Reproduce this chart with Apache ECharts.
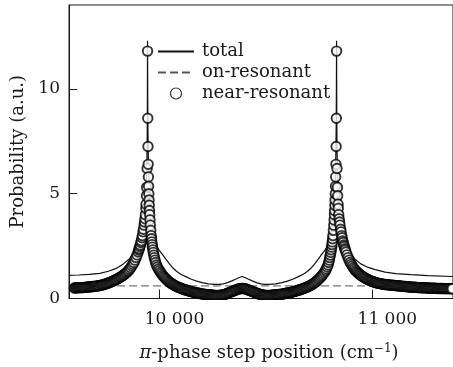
<!DOCTYPE html>
<html><head><meta charset="utf-8">
<script src="https://cdn.jsdelivr.net/npm/echarts@6/dist/echarts.min.js"></script>
<style>html,body{margin:0;padding:0;background:#fff}#c{width:453px;height:367px}</style>
</head><body><div id="c"></div>
<script>
const xTicks = [10000, 11000];
const yTicks = [0, 5, 10];
const seriesNames = ['total', 'on-resonant', 'near-resonant'];

const onResonant = [[9575, 0.6], [11379, 0.6]];

const totalCurve = [[9575,1.10],[9620,1.12],[9670,1.15],[9720,1.20],[9760,1.30],[9800,1.45],[9830,1.65],[9860,1.9],[9880,2.2],[9900,2.65],[9915,3.15],[9925,3.7],[9932,4.4],[9937,5.2],[9940,6.1],[9942,7.3],[9943,8.8],[9944,12.3],[9945,9.5],[9946,8.0],[9948,6.6],[9950,5.8],[9953,5.0],[9957,4.3],[9962,3.7],[9970,3.1],[9980,2.7],[9990,2.45],[10000,2.28],[10014,2.1],[10030,1.88],[10045,1.68],[10061,1.48],[10080,1.3],[10100,1.16],[10126,1.03],[10150,0.92],[10175,0.83],[10201,0.76],[10230,0.70],[10260,0.67],[10280,0.67],[10300,0.70],[10320,0.76],[10340,0.84],[10360,0.93],[10375,1.0],[10388,1.05],[10401,1.0],[10416,0.93],[10436,0.84],[10456,0.76],[10476,0.70],[10496,0.67],[10516,0.67],[10546,0.70],[10575,0.76],[10601,0.83],[10626,0.92],[10650,1.03],[10676,1.16],[10696,1.3],[10715,1.48],[10731,1.68],[10746,1.88],[10762,2.1],[10776,2.28],[10786,2.45],[10796,2.7],[10806,3.1],[10814,3.7],[10819,4.3],[10823,5.0],[10826,5.8],[10828,6.6],[10830,8.0],[10831,9.5],[10832,12.3],[10833,8.8],[10834,7.3],[10836,6.1],[10839,5.2],[10844,4.4],[10851,3.7],[10861,3.15],[10876,2.65],[10896,2.2],[10916,1.9],[10946,1.65],[10976,1.5],[11014,1.38],[11060,1.26],[11110,1.19],[11182,1.14],[11260,1.09],[11379,1.05]];

const nearResonant = [
[9600,.50],[9605,.50],[9610,.51],[9615,.51],[9620,.51],[9625,.52],[9630,.52],[9635,.52],[9640,.52],[9645,.53],[9650,.53],[9655,.54],[9660,.54],[9665,.55],[9670,.55],[9675,.56],[9680,.56],[9685,.57],[9690,.57],[9695,.58],[9700,.59],[9705,.60],[9710,.60],[9715,.61],[9720,.62],[9725,.63],[9730,.64],[9735,.66],[9740,.67],[9745,.69],[9750,.70],[9755,.72],[9760,.74],[9765,.76],[9770,.78],[9775,.80],[9780,.82],[9785,.85],[9790,.87],[9795,.90],[9800,.92],[9805,.95],[9810,.98],[9815,1.01],[9820,1.04],[9825,1.07],[9830,1.11],[9835,1.15],[9840,1.19],[9845,1.24],[9850,1.29],[9855,1.34],[9860,1.40],[9865,1.47],[9870,1.55],[9875,1.63],[9880,1.72],[9885,1.83],[9890,1.95],[9895,2.08],[9900,2.22],[9903,2.31],[9905,2.38],[9908,2.48],[9910,2.55],[9913,2.67],[9915,2.75],[9918,2.9],[9920,3.0],[9923,3.18],[9925,3.3],[9928,3.5],[9930,3.65],[9932,3.8],[9934,4.0],[9936,4.3],[9937,4.5],[9939,4.9],[9940,5.3],[9942,6.2],
[9944,11.8],[9945,8.6],[9946,7.25],[9947,6.4],[9948,5.8],[9949,5.35],[9950,5.0],[9951,4.7],[9952,4.45],[9953,4.2],[9954,4.0],[9955.5,3.75],[9957,3.5],[9959,3.25],
[9961,3.0],[9962.5,2.85],[9964,2.7],[9965.5,2.57],[9967,2.45],[9969,2.32],[9971,2.2],[9973.5,2.07],[9976,1.95],[9979,1.83],[9982,1.72],[9986,1.6],[9990,1.5],[9995,1.41],[10000,1.33],[10005,1.25],[10010,1.18],[10015,1.11],[10020,1.05],[10025,.99],[10030,.94],[10035,.89],[10040,.84],[10045,.80],[10050,.76],[10055,.72],[10060,.69],[10065,.66],[10070,.63],[10075,.60],[10080,.58],[10085,.55],[10090,.53],[10095,.51],[10100,.49],[10105,.47],[10110,.45],[10115,.43],[10120,.42],[10125,.40],[10130,.39],[10135,.37],[10140,.36],[10145,.34],[10150,.33],[10155,.31],[10160,.30],[10165,.29],[10170,.28],[10175,.27],[10180,.26],[10185,.25],[10190,.24],[10195,.23],[10200,.22],[10205,.21],[10210,.20],[10215,.195],[10220,.19],[10225,.185],[10230,.18],[10235,.175],[10240,.17],[10245,.165],[10250,.16],[10255,.155],[10260,.15],[10265,.15],[10270,.15],[10275,.15],[10280,.15],[10285,.155],[10290,.16],[10295,.17],[10300,.18],[10305,.195],[10310,.21],[10315,.23],[10320,.25],[10325,.27],[10330,.29],[10335,.31],[10340,.33],[10345,.35],[10350,.37],[10355,.39],[10360,.41],[10365,.43],[10370,.45],[10375,.46],[10380,.47],[10385,.48],[10390,.48],
[10395,.475],[10400,.47],[10405,.455],[10410,.44],[10415,.42],[10420,.40],[10425,.38],[10430,.36],[10435,.34],[10440,.32],[10445,.30],[10450,.28],[10455,.26],[10460,.24],[10465,.225],[10470,.21],[10475,.195],[10480,.18],[10485,.17],[10490,.16],[10495,.155],[10500,.15],[10505,.15],[10510,.15],[10515,.15],[10520,.15],[10525,.155],[10530,.16],[10535,.165],[10540,.17],[10545,.175],[10550,.18],[10555,.185],[10560,.19],[10565,.195],[10570,.20],[10575,.21],[10580,.22],[10585,.23],[10590,.24],[10595,.25],[10600,.26],[10605,.27],[10610,.28],[10615,.29],[10620,.30],[10625,.31],[10630,.33],[10635,.34],[10640,.36],[10645,.37],[10650,.39],[10655,.40],[10660,.42],[10665,.43],[10670,.45],[10675,.47],[10680,.49],[10685,.51],[10690,.53],[10695,.55],[10700,.58],[10705,.60],[10710,.63],[10715,.66],[10720,.69],[10725,.72],[10730,.76],[10735,.80],[10740,.84],[10745,.89],[10750,.94],[10755,.99],[10760,1.05],[10765,1.11],[10770,1.18],[10775,1.25],[10780,1.33],[10784,1.41],[10788,1.5],[10792,1.6],[10795,1.72],[10798,1.83],[10800,1.95],[10802.5,2.07],[10805,2.2],[10807,2.32],[10809,2.45],[10810.5,2.57],[10812,2.7],[10813.5,2.85],[10815,3.0],
[10817,3.25],[10819,3.5],[10820.5,3.75],[10822,4.0],[10823,4.2],[10824,4.45],[10825,4.7],[10826,5.0],[10827,5.35],[10828,5.8],[10829,6.4],[10830,7.25],[10831,8.6],[10832,11.8],
[10834,6.2],[10836,5.3],[10837,4.9],[10839,4.5],[10840,4.3],[10842,4.0],[10844,3.8],[10846,3.65],[10848,3.5],[10851,3.3],[10853,3.18],[10856,3.0],[10858,2.9],[10861,2.75],[10863,2.67],[10866,2.55],[10868,2.48],[10871,2.38],[10873,2.31],[10876,2.22],[10881,2.08],[10886,1.95],[10891,1.83],[10896,1.72],[10901,1.63],[10906,1.55],[10911,1.47],[10916,1.40],[10921,1.34],[10926,1.29],[10931,1.24],[10936,1.19],[10941,1.15],[10946,1.11],[10951,1.07],[10956,1.04],[10961,1.01],[10966,.98],[10971,.95],[10976,.92],[10981,.895],[10986,.87],[10991,.85],[10996,.83],[11001,.81],[11006,.79],[11011,.775],[11016,.76],[11021,.745],[11026,.73],[11031,.72],[11036,.71],[11041,.70],[11046,.69],[11051,.68],[11056,.67],[11061,.665],[11066,.66],[11071,.655],[11076,.65],[11081,.645],[11086,.64],[11091,.635],[11096,.63],[11101,.625],[11106,.62],[11111,.615],[11116,.61],[11121,.605],[11126,.60],[11131,.595],[11136,.59],[11141,.585],[11146,.58],[11151,.575],[11156,.57],[11161,.565],[11166,.56],[11171,.555],[11176,.55],[11181,.545],[11186,.54],[11191,.54],[11196,.54],[11201,.535],[11206,.53],[11211,.525],[11216,.52],[11221,.52],[11226,.52],[11231,.515],[11236,.51],[11241,.51],[11246,.51],[11251,.505],[11256,.50],[11261,.50],[11266,.50],[11271,.495],[11276,.49],[11281,.49],[11286,.49],[11291,.49],[11296,.49],[11301,.485],[11306,.48],[11311,.48],[11316,.48],[11321,.48],[11326,.48],[11331,.475],[11336,.47],[11341,.47],[11346,.47],[11351,.47],[11356,.47],[11361,.47],[11366,.47],[11371,.465],[11376,.46]
];

const FONT = 'DejaVu Serif';
const INK = '#1a1a1a';
const FS = 18;
const FT = 17;
const chart = echarts.init(document.getElementById('c'), null, {renderer: 'canvas'});
chart.setOption({
  animation: false,
  backgroundColor: '#fff',
  grid: {left: 69, top: 5, right: -3, bottom: 68, show: true, borderColor: INK, borderWidth: 1, backgroundColor: 'transparent'},
  legend: {
    data: [
      {name: 'total', itemStyle: {opacity: 0}},
      {name: 'on-resonant', itemStyle: {opacity: 0}},
      {name: 'near-resonant', itemStyle: {borderWidth: 1.2}}
    ],
    orient: 'vertical',
    left: 157, top: 42, padding: 0,
    itemWidth: 36, itemHeight: 11, itemGap: 2,
    selectedMode: false,
    textStyle: {fontFamily: FONT, fontSize: FS, color: INK, lineHeight: 19, padding: [0,0,0,3]}
  },
  xAxis: {
    type: 'value', min: 9575, max: 11379,
    name: '{it|π}-phase step position (cm{sup|−1})',
    nameLocation: 'middle', nameGap: 44,
    nameTextStyle: {fontFamily: FONT, fontSize: FS, color: INK, padding: [0,0,0,16],
      rich: {it: {fontFamily: FONT, fontStyle: 'italic', fontSize: FS, color: INK},
             sup: {fontFamily: FONT, fontSize: 12, color: INK, verticalAlign: 'top', padding: [0,0,9,0]}}},
    axisLine: {show: true, lineStyle: {color: INK, width: 1}},
    axisTick: {show: true, inside: true, length: 9, customValues: xTicks, lineStyle: {color: INK}},
    axisLabel: {customValues: xTicks, margin: 13, fontFamily: FONT, fontSize: FT, color: INK, padding: [0,0,0,30],
      formatter: v => String(v).replace(/(\d+)(\d{3})$/, '$1 $2')},
    splitLine: {show: false}
  },
  yAxis: {
    type: 'value', min: 0, max: 14,
    name: 'Probability (a.u.)', nameLocation: 'middle', nameGap: 38,
    nameTextStyle: {fontFamily: FONT, fontSize: FS, color: INK},
    axisLine: {show: true, lineStyle: {color: INK, width: 1}},
    axisTick: {show: true, inside: true, length: 8, customValues: yTicks, lineStyle: {color: INK}},
    axisLabel: {customValues: yTicks, margin: 9, fontFamily: FONT, fontSize: FT, color: INK},
    splitLine: {show: false}
  },
  series: [
    {name: 'on-resonant', type: 'line', data: onResonant, symbol: 'none', z: 2,
     lineStyle: {color: '#555', width: 1, type: [8, 4]}, itemStyle: {color: '#555'}},
    {name: 'total', type: 'line', data: totalCurve, symbol: 'none', z: 3,
     lineStyle: {color: '#111', width: 1.2}, itemStyle: {color: '#111'}},
    {name: 'near-resonant', type: 'scatter', data: nearResonant, symbol: 'circle', symbolSize: 9.5, z: 4,
     itemStyle: {color: '#fff', borderColor: '#000', borderWidth: 1.9}}
  ],
  graphic: [
    {type: 'rect', z: 100, shape: {x: 69, y: 300, width: 384, height: 6}, style: {fill: '#fff'}}
  ]
});
</script></body></html>
